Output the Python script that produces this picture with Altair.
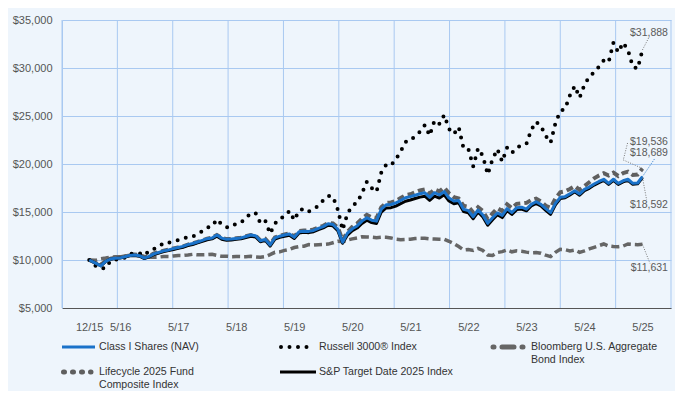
import json
import altair as alt
import pandas as pd

# ---------------- data ----------------
months = [-1.4] + list(range(114))  # month index, 0 = Dec 2015

class_i = [10000,
    9650, 9380, 9850, 10100, 10180, 10220, 10340, 10480, 10520, 10450,
    10200, 10380, 10640, 10800, 10950, 11050, 11180, 11300, 11420, 11600,
    11720, 11880, 12050, 12220, 12300, 12600, 12280, 12150, 12180, 12250,
    12300, 12450, 12600, 12520, 12000, 12150, 11560, 12300, 12480, 12600,
    12700, 12360, 12950, 13000, 12980, 13080, 13300, 13480, 13780, 13700,
    13200, 11850, 12800, 13250, 13550, 14050, 14400, 14150, 14050, 15300,
    15750, 15780, 15950, 16200, 16480, 16600, 16750, 16900, 17000, 16530,
    17010, 16770, 17120, 16450, 16150, 16200, 15280, 15140, 14510, 15210,
    14690, 13820, 14400, 14900, 14650, 15350, 14950, 15450, 15500, 15300,
    15800, 16070, 15800, 15350, 14930, 15900, 16530, 16600, 16900, 17220,
    16880, 17360, 17600, 17920, 18180, 18410, 17990, 18410, 17990, 18250,
    18410, 17990, 18020, 18689]

russell = [10000,
    9350, 9120, 9150, 9900, 10000, 10200, 10250, 10650, 10680, 10700,
    10470, 10950, 11160, 11370, 11800, 11800, 11920, 12080, 12180, 12410,
    12440, 12720, 13000, 13380, 13500, 14230, 13700, 13400, 13440, 13800,
    13900, 14380, 14880, 14900, 13830, 14100, 12750, 13800, 14320, 14540,
    15110, 14150, 15140, 15370, 15060, 15330, 15650, 16230, 16680, 16600,
    15250, 13130, 14850, 15650, 16000, 16950, 18150, 17500, 17100, 19130,
    19930, 19850, 20500, 21300, 22300, 22400, 22950, 23350, 24050, 22950,
    24530, 24180, 25100, 23650, 23120, 23850, 21640, 21550, 19750, 21640,
    20830, 18920, 20500, 21550, 20250, 21700, 21150, 21700, 21950, 22080,
    23550, 24400, 23950, 22920, 22220, 24250, 25500, 25750, 27150, 28130,
    26910, 28250, 29100, 29550, 30140, 30800, 30600, 32640, 31640, 32640,
    31880, 30140, 29930, 31888]

bloomberg = [10000,
    9980, 10120, 10200, 10300, 10340, 10340, 10420, 10500, 10480, 10470,
    10380, 10280, 10280, 10300, 10370, 10360, 10420, 10480, 10470, 10520,
    10590, 10540, 10550, 10560, 10590, 10480, 10380, 10400, 10350, 10360,
    10350, 10350, 10380, 10320, 10280, 10350, 10560, 10800, 10850, 11000,
    11100, 11300, 11400, 11430, 11600, 11560, 11600, 11620, 11660, 11800,
    11950, 11900, 12080, 12200, 12300, 12420, 12400, 12380, 12330, 12370,
    12360, 12300, 12180, 12120, 12150, 12170, 12240, 12270, 12260, 12200,
    12180, 12170, 12160, 11950, 11700, 11400, 11050, 11100, 11000, 11220,
    11000, 10520, 10480, 10780, 10870, 11050, 10850, 10950, 10900, 10820,
    10760, 10780, 10700, 10500, 10350, 10800, 11110, 11080, 10950, 11040,
    10800, 10950, 11150, 11320, 11500, 11670, 11450, 11400, 11390, 11450,
    11670, 11620, 11600, 11631]

lifecycle = [10000,
    9700, 9500, 9900, 10150, 10250, 10300, 10400, 10550, 10580, 10520,
    10280, 10420, 10680, 10830, 10980, 11080, 11200, 11320, 11430, 11600,
    11730, 11880, 12050, 12220, 12320, 12600, 12300, 12180, 12200, 12270,
    12320, 12470, 12600, 12540, 12050, 12200, 11650, 12350, 12530, 12670,
    12780, 12450, 13030, 13080, 13080, 13180, 13380, 13560, 13860, 13800,
    13400, 12050, 12950, 13450, 13800, 14300, 14700, 14450, 14350, 15500,
    15950, 16000, 16150, 16450, 16750, 16850, 17050, 17250, 17350, 16900,
    17350, 17150, 17550, 16950, 16550, 16400, 15650, 15550, 14950, 15500,
    15100, 14250, 14850, 15400, 15100, 15800, 15400, 15850, 15900, 15950,
    16250, 16400, 16100, 15650, 15450, 16400, 17050, 17150, 17400, 17700,
    17300, 17700, 18100, 18500, 18800, 19050, 18800, 19100, 18750, 19050,
    19200, 18850, 18900, 19536]

sp_target = [10000,
    9650, 9400, 9850, 10080, 10150, 10200, 10300, 10430, 10470, 10400,
    10150, 10320, 10570, 10730, 10880, 10980, 11100, 11210, 11330, 11500,
    11620, 11780, 11950, 12110, 12200, 12480, 12170, 12050, 12080, 12150,
    12200, 12340, 12480, 12400, 11900, 12050, 11450, 12180, 12360, 12480,
    12580, 12250, 12820, 12880, 12850, 12950, 13170, 13350, 13630, 13560,
    13050, 11750, 12600, 13050, 13330, 13800, 14150, 13900, 13800, 15000,
    15420, 15450, 15620, 15870, 16120, 16250, 16400, 16550, 16650, 16200,
    16650, 16450, 16800, 16150, 15870, 15950, 15050, 14920, 14300, 15000,
    14480, 13620, 14200, 14720, 14420, 15150, 14750, 15250, 15300, 15120,
    15620, 15900, 15630, 15180, 14750, 15750, 16400, 16480, 16780, 17100,
    16750, 17230, 17470, 17800, 18060, 18290, 17870, 18300, 17870, 18130,
    18300, 17880, 17930, 18592]

tick_values = [-1.4, 5, 17, 29, 41, 53, 65, 77, 89, 101, 113]
tick_labels = ["12/15", "5/16", "5/17", "5/18", "5/19", "5/20", "5/21",
               "5/22", "5/23", "5/24", "5/25"]
y_ticks = [5000, 10000, 15000, 20000, 25000, 30000, 35000]

legend_names = ["Class I Shares (NAV)", "Russell 3000\u00ae Index",
                "Bloomberg U.S. Aggregate\nBond Index",
                "Lifecycle 2025 Fund\nComposite Index",
                "S&P Target Date 2025 Index"]
end_texts = ["$18,689", "$31,888", "$11,631", "$19,536", "$18,592"]

# ---------------- style / layout ----------------
FONT = "Liberation Sans"
BG = "#eef5fc"
GRID = "#a9c9f1"
BLUE = "#1a72c9"
GRAY = "#666666"
W, H = 609, 288
XMIN, XMAX = -7.03, 118.9
YMIN, YMAX = 5000, 35000
PXX = W / (XMAX - XMIN)
PXY = H / (YMAX - YMIN)

label_expr = f"{json.dumps(tick_labels)}[indexof({json.dumps(tick_values)}, datum.value)]"

x_enc = alt.X("t:Q", scale=alt.Scale(domain=[XMIN, XMAX], nice=False, zero=False),
              axis=alt.Axis(values=tick_values, labelExpr=label_expr, title=None,
                            ticks=False, grid=False, domainColor="#555555",
                            domainWidth=1.2, labelPadding=13, labelColor="#555555",
                            labelFontSize=11, labelFont=FONT, labelOverlap=False,
                            labelFlush=False))
y_enc = alt.Y("v:Q", scale=alt.Scale(domain=[YMIN, YMAX], nice=False, zero=False),
              axis=alt.Axis(values=y_ticks, format="$,.0f", title=None, ticks=False,
                            grid=True, gridColor=GRID, gridWidth=1, domainColor=GRID,
                            labelPadding=10, labelColor="#555555", labelFontSize=11,
                            labelFont=FONT))


def series_df(values):
    return pd.DataFrame({"t": months, "v": values})


def line(values, **kw):
    return alt.Chart(series_df(values)).mark_line(**kw).encode(x=x_enc, y=y_enc)


# vertical grid lines, evenly spaced across the plot
grid_df = pd.DataFrame({"t": [XMIN + k * (XMAX - XMIN) / 11 for k in range(12)]})
vgrid = alt.Chart(grid_df).mark_rule(color=GRID, strokeWidth=1).encode(x=x_enc)

bl = line(bloomberg, color=GRAY, strokeWidth=3.5, strokeDash=[8, 4])
lc = line(lifecycle, color="#5f5f5f", strokeWidth=4, strokeDash=[7, 4])
ru = line(russell, color="black", strokeWidth=4, strokeDash=[0, 8.5],
          strokeCap="round", strokeJoin="round")
sp = line(sp_target, color="black", strokeWidth=3, strokeJoin="round")
ci = line(class_i, color=BLUE, strokeWidth=3, strokeJoin="round")

# ---------------- end labels & leaders ----------------
finals = [class_i[-1], russell[-1], bloomberg[-1], lifecycle[-1], sp_target[-1]]
t_end = months[-1]
# pixel offsets of leader vertices and label anchors relative to the last point
leader_px = [[(0, 0), (12.5, -18.3)],
             [(0, 0), (6.5, -12.6)],
             [(0, 0), (7.5, 19)],
             [(0, 0), (-19.2, -8.5), (-14.8, -25.8)],
             [(0, 0), (4.2, 22.5)]]
label_px = [(25.5, -23.3), (25.5, -16.6), (25.5, 23.4), (25.5, -26.8), (25.5, 27.5)]

lead_rows = []
for i, (fv, pts) in enumerate(zip(finals, leader_px)):
    for j, (dx, dy) in enumerate(pts):
        lead_rows.append({"id": i, "o": j, "t": t_end + dx / PXX, "v": fv - dy / PXY,
                          "blue": i == 0})
lead_df = pd.DataFrame(lead_rows)
lead_gray = alt.Chart(lead_df[~lead_df.blue]).mark_line(
    color="#777777", strokeWidth=1, strokeDash=[1, 1.5]).encode(
    x=x_enc, y=y_enc, detail="id:N", order="o:Q")
lead_blue = alt.Chart(lead_df[lead_df.blue]).mark_line(
    color=BLUE, strokeWidth=1, strokeDash=[1, 1.5]).encode(
    x=x_enc, y=y_enc, detail="id:N", order="o:Q")

lab_df = pd.DataFrame({
    "t": [t_end + p[0] / PXX for p in label_px],
    "v": [fv - p[1] / PXY for fv, p in zip(finals, label_px)],
    "txt": end_texts})
end_labels = alt.Chart(lab_df).mark_text(
    align="right", baseline="middle", font=FONT, fontSize=10.5, color="#5a5a5a").encode(
    x=x_enc, y=y_enc, text="txt:N")

# ---------------- legend ----------------
one = pd.DataFrame({"a": [0]})


def leg_rule(x1, x2, y, **kw):
    return alt.Chart(one).mark_rule(**kw).encode(
        x=alt.value(x1), x2=alt.value(x2), y=alt.value(y))


def leg_text(txt, x, y):
    return alt.Chart(pd.DataFrame({"txt": [txt]})).mark_text(
        align="left", baseline="middle", font=FONT, fontSize=10.6, color="#333333",
        lineBreak="\n", lineHeight=13).encode(
        x=alt.value(x), y=alt.value(y), text="txt:N")


R1, R2 = 327, 352
legend = [
    leg_rule(0, 33, R1, color=BLUE, strokeWidth=3),
    leg_text(legend_names[0], 37, R1),
    leg_rule(219, 253, R1, color="black", strokeWidth=4, strokeDash=[0, 8.5], strokeCap="round"),
    leg_text(legend_names[1], 257, R1),
    leg_rule(431, 461, R1, color=GRAY, strokeWidth=5, strokeDash=[1, 8, 12, 8], strokeCap="round"),
    leg_text(legend_names[2], 469, R1),
    leg_rule(1.5, 29, R2, color="#5f5f5f", strokeWidth=5, strokeDash=[1, 8], strokeCap="round"),
    leg_text(legend_names[3], 37, R2),
    leg_rule(218, 254, R2, color="black", strokeWidth=3),
    leg_text(legend_names[4], 257, R2),
]

chart = alt.layer(vgrid, bl, lc, ru, sp, ci, lead_gray, lead_blue, end_labels,
                  *legend).properties(
    width=W, height=H, background=BG,
    padding={"left": 54, "top": 12, "right": 4, "bottom": 83},
    autosize=alt.AutoSizeParams(type="none"),
).configure_view(stroke=None)

chart.save("out.html", embed_options={"renderer": "svg", "actions": False})
